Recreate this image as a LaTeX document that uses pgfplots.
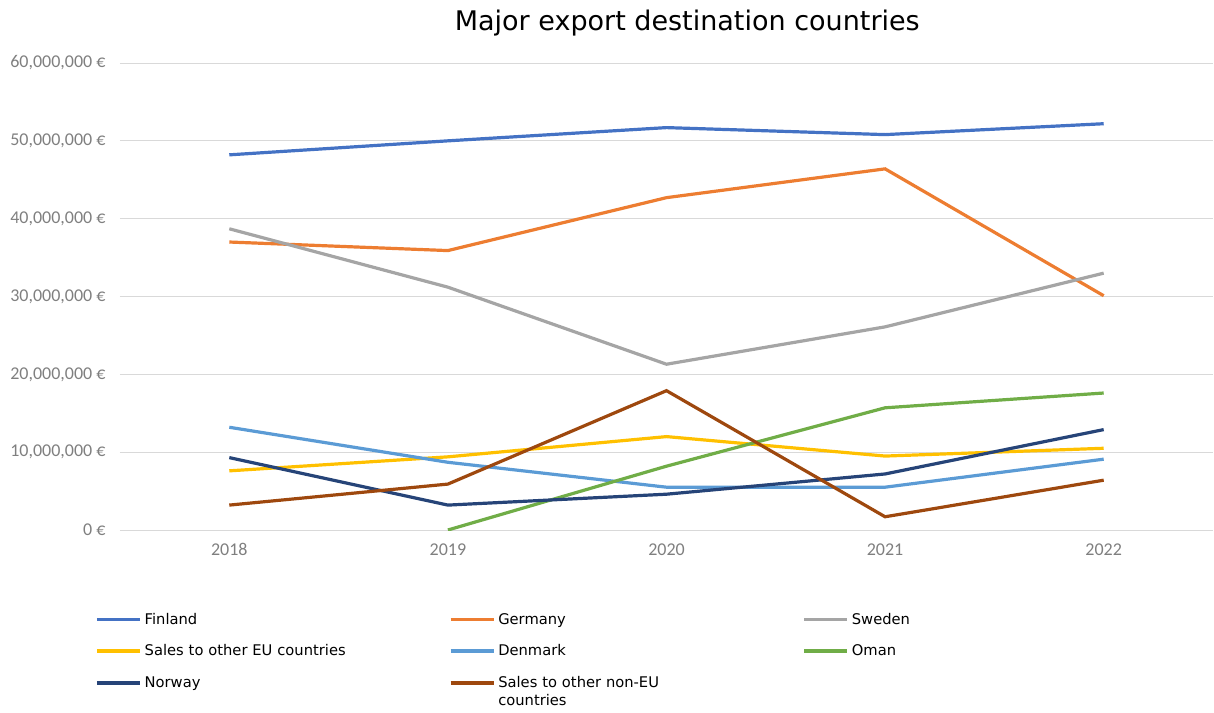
\documentclass[border=0pt]{standalone}
\usepackage{fontspec}
\setmainfont{DejaVu Sans}
\newfontfamily\carlito{Carlito}
\usepackage{pgfplots}
\pgfplotsset{compat=1.18}
\definecolor{cFin}{HTML}{4472C4}
\definecolor{cGer}{HTML}{ED7D31}
\definecolor{cSwe}{HTML}{A5A5A5}
\definecolor{cEU}{HTML}{FFC000}
\definecolor{cDen}{HTML}{5B9BD5}
\definecolor{cOma}{HTML}{70AD47}
\definecolor{cNor}{HTML}{264478}
\definecolor{cNon}{HTML}{9E480E}
\definecolor{tickgray}{HTML}{7F7F7F}
\begin{document}
\begin{tikzpicture}
\path[use as bounding box] (-120pt,-182pt) rectangle (1094pt,530pt);
\begin{axis}[
  at={(0,0)}, anchor=south west,
  scale only axis, width=1093pt, height=467pt,
  xmin=-0.5, xmax=4.5, ymin=0, ymax=60000000,
  scaled y ticks=false,
  xtick={0,1,2,3,4}, xticklabels={2018,2019,2020,2021,2022},
  ytick={0,10000000,20000000,30000000,40000000,50000000,60000000},
  yticklabels={0 €,{10,000,000 €},{20,000,000 €},{30,000,000 €},{40,000,000 €},{50,000,000 €},{60,000,000 €}},
  ticklabel style={font=\carlito\fontsize{18}{20}\selectfont, text=tickgray},
  yticklabel style={xshift=-11pt},
  xticklabel style={yshift=-10pt},
  axis line style={draw=none},
  major tick length=0pt,
  ymajorgrids, major grid style={draw=black!15, line width=1pt},
  title={Major export destination countries},
  title style={at={(0.519,1.073)}, anchor=center, font=\fontsize{27}{31}\selectfont},
  legend columns=3,
  legend image code/.code={\draw[#1, line width=3.6pt] (0pt,0pt) -- (43pt,0pt);},
  legend style={at={(-0.0257,-0.171)}, anchor=north west, draw=none, fill=none,
    font=\fontsize{14.7}{18}\selectfont, row sep=17pt,
    nodes={text width=301pt, align=left, inner xsep=3pt, inner ysep=1pt}},
  every axis plot/.append style={line width=3.2pt},
]
\addplot[cFin] coordinates {(0,48200000) (1,50000000) (2,51700000) (3,50800000) (4,52200000)};
\addlegendentry{Finland}
\addplot[cGer] coordinates {(0,37000000) (1,35900000) (2,42700000) (3,46400000) (4,30100000)};
\addlegendentry{Germany}
\addplot[cSwe] coordinates {(0,38700000) (1,31200000) (2,21300000) (3,26100000) (4,33000000)};
\addlegendentry{Sweden}
\addplot[cEU] coordinates {(0,7600000) (1,9400000) (2,12000000) (3,9500000) (4,10500000)};
\addlegendentry{Sales to other EU countries}
\addplot[cDen] coordinates {(0,13200000) (1,8700000) (2,5500000) (3,5500000) (4,9100000)};
\addlegendentry{Denmark}
\addplot[cOma] coordinates {(1,0) (2,8200000) (3,15700000) (4,17600000)};
\addlegendentry{Oman}
\addplot[cNor] coordinates {(0,9300000) (1,3200000) (2,4600000) (3,7200000) (4,12900000)};
\addlegendentry{Norway}
\addplot[cNon] coordinates {(0,3200000) (1,5900000) (2,17900000) (3,1700000) (4,6400000)};
\addlegendentry{Sales to other non-EU\\countries}
\end{axis}
\end{tikzpicture}
\end{document}
